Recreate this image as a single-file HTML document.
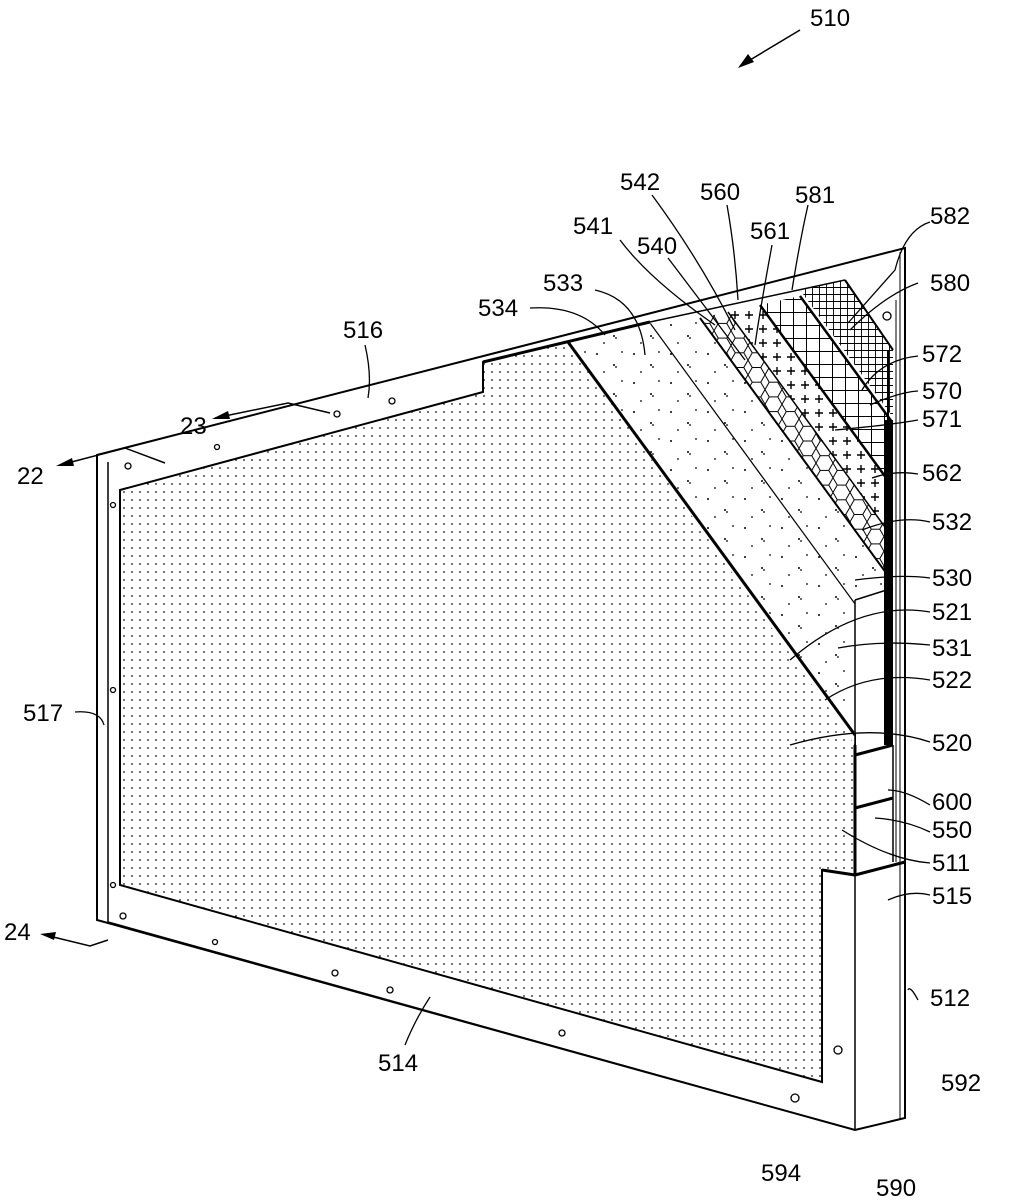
<!DOCTYPE html>
<html><head><meta charset="utf-8"><style>
html,body{margin:0;padding:0;background:#fff;}
svg{display:block;}
text{font-family:"Liberation Sans",sans-serif;font-size:24px;fill:#000;}
</style></head><body>
<svg width="1022" height="1200" viewBox="0 0 1022 1200" xmlns="http://www.w3.org/2000/svg">
<defs>
<pattern id="dots" width="8" height="8" patternUnits="userSpaceOnUse"><circle cx="4" cy="4" r="0.85" fill="#000"/></pattern>
<pattern id="sparse" width="37" height="29" patternUnits="userSpaceOnUse">
<circle cx="5" cy="6" r="1" fill="#000"/><circle cx="22" cy="17" r="1" fill="#000"/><circle cx="30" cy="4" r="0.9" fill="#000"/><circle cx="12" cy="24" r="0.9" fill="#000"/><circle cx="24" cy="19" r="0.9" fill="#000"/></pattern>
<pattern id="hex" width="17" height="14.7" patternUnits="userSpaceOnUse">
<path d="M0,7.35 L4.25,0 L12.75,0 L17,7.35 L12.75,14.7 L4.25,14.7 Z" fill="none" stroke="#000" stroke-width="1"/></pattern>
<pattern id="plus" width="14" height="14" patternUnits="userSpaceOnUse">
<path d="M7,3 V11 M3,7 H11" stroke="#000" stroke-width="1.4"/></pattern>
<pattern id="grid" width="13" height="13" patternUnits="userSpaceOnUse">
<path d="M0,0.5 H13 M0.5,0 V13" stroke="#000" stroke-width="1"/></pattern>
<pattern id="fine" width="7" height="7" patternUnits="userSpaceOnUse">
<path d="M0,0.5 H7 M0.5,0 V7" stroke="#000" stroke-width="0.9"/></pattern>
<clipPath id="lay"><polygon points="568,342 845,280 893,350 893,590 855,600 855,745 568,342"/></clipPath>
</defs>

<polygon points="97,455 905,248 905,1118 855,1130 97,920" fill="#fff" stroke="#000" stroke-width="2"/>
<line x1="108" y1="462" x2="108" y2="922" stroke="#000" stroke-width="1.5"/>
<line x1="108" y1="922" x2="855" y2="1130" stroke="#000" stroke-width="1.5"/>
<line x1="855" y1="875" x2="855" y2="1130" stroke="#000" stroke-width="1.5"/>
<line x1="900" y1="252" x2="900" y2="1120" stroke="#000" stroke-width="1"/>
<polygon points="120,490 483,392 483,362 568,342 855,735 855,875 822,870 822,1082 120,885" fill="url(#dots)" stroke="#000" stroke-width="2"/>
<g clip-path="url(#lay)">
<rect x="560" y="270" width="340" height="480" fill="#fff"/>
<polygon points="568,342 700,318 1000,729 868,753" fill="url(#sparse)"/>
<polygon points="700,318 728,312 1028,723 1000,729" fill="url(#hex)"/>
<polygon points="728,312 760,305 1060,716 1028,723" fill="url(#plus)"/>
<polygon points="760,305 800,296 1100,707 1060,716" fill="url(#grid)"/>
<polygon points="800,290 845,280 1145,691 1100,701" fill="url(#fine)"/>
<g stroke="#000" fill="none">
<line x1="650" y1="323" x2="950" y2="734" stroke-width="1.2"/>
<line x1="700" y1="318" x2="1000" y2="729" stroke-width="2"/>
<line x1="728" y1="312" x2="1028" y2="723" stroke-width="1.5"/>
<line x1="760" y1="305" x2="1060" y2="716" stroke-width="2.5"/>
<line x1="800" y1="296" x2="1100" y2="707" stroke-width="2.5"/>
<line x1="845" y1="280" x2="1145" y2="691" stroke-width="2"/>
</g>
<polygon points="855,600 893,588 893,750 855,750" fill="#fff"/>
</g>
<line x1="568" y1="342" x2="855" y2="735" stroke="#000" stroke-width="3"/>
<line x1="483" y1="362" x2="650" y2="322" stroke="#000" stroke-width="3"/>
<line x1="650" y1="322" x2="845" y2="280" stroke="#000" stroke-width="1.5"/>
<line x1="845" y1="280" x2="893" y2="350" stroke="#000" stroke-width="2"/>
<line x1="855" y1="600" x2="893" y2="588" stroke="#000" stroke-width="1.5"/>
<line x1="855" y1="600" x2="855" y2="745" stroke="#000" stroke-width="1.5"/>
<rect x="884" y="420" width="9" height="325" fill="#000"/>
<line x1="888" y1="350" x2="888" y2="420" stroke="#000" stroke-width="2"/>
<line x1="896" y1="300" x2="896" y2="862" stroke="#000" stroke-width="1"/>
<line x1="893" y1="745" x2="893" y2="862" stroke="#000" stroke-width="1.5"/>
<g stroke="#000" stroke-width="3">
<line x1="855" y1="755" x2="893" y2="745"/>
<line x1="855" y1="808" x2="893" y2="798"/>
<line x1="822" y1="870" x2="855" y2="875"/>
<line x1="855" y1="875" x2="905" y2="862"/>
<line x1="855" y1="745" x2="855" y2="875"/>
</g>
<g fill="#fff" stroke="#000" stroke-width="1.3">
<circle cx="887" cy="316" r="4"/><circle cx="337" cy="414" r="3"/><circle cx="392" cy="401" r="3"/>
<circle cx="217" cy="447" r="2.5"/><circle cx="128" cy="466" r="3"/>
<circle cx="113" cy="505" r="2.5"/><circle cx="113" cy="690" r="2.5"/><circle cx="113" cy="885" r="2.5"/>
<circle cx="123" cy="916" r="3"/><circle cx="215" cy="942" r="2.5"/><circle cx="335" cy="973" r="3"/>
<circle cx="390" cy="990" r="3"/><circle cx="562" cy="1033" r="3"/><circle cx="795" cy="1098" r="4"/>
<circle cx="838" cy="1050" r="4"/>
</g>
<g stroke="#000" stroke-width="1.5" fill="none">
<path d="M800,30 L740,66"/>
<path d="M60,465 L125,448 L165,463"/>
<path d="M215,418 L288,403 L330,413"/>
<path d="M45,935 L90,946 L108,940"/>
</g>
<g fill="#000">
<polygon points="738,68 748,54 754,62"/>
<polygon points="56,466 72,458 74,466"/>
<polygon points="212,419 228,411 230,419"/>
<polygon points="40,934 56,932 54,940"/>
</g>
<g stroke="#000" stroke-width="1.3" fill="none">
<path d="M365,345 Q372,375 368,398"/>
<path d="M530,308 Q580,305 605,335"/>
<path d="M595,290 Q640,300 645,355"/>
<path d="M620,240 Q650,280 715,325"/>
<path d="M668,258 Q700,300 745,360"/>
<path d="M652,195 Q700,260 735,330"/>
<path d="M727,205 Q735,250 738,300"/>
<path d="M772,245 Q760,310 755,345"/>
<path d="M808,205 Q800,240 792,290"/>
<path d="M930,222 Q905,230 895,270 L848,323"/>
<path d="M918,283 Q885,295 850,330"/>
<path d="M918,356 Q880,360 862,390"/>
<path d="M918,391 Q900,392 870,405"/>
<path d="M918,420 Q890,425 835,430"/>
<path d="M918,474 Q895,470 872,478"/>
<path d="M930,522 Q900,515 862,530"/>
<path d="M930,578 Q900,574 855,580"/>
<path d="M930,612 Q860,600 790,660"/>
<path d="M930,645 Q880,640 838,648"/>
<path d="M930,680 Q870,670 825,700"/>
<path d="M930,742 Q870,722 790,745"/>
<path d="M930,805 Q905,790 888,790"/>
<path d="M930,832 Q905,820 875,818"/>
<path d="M930,863 Q890,860 842,830"/>
<path d="M930,895 Q910,890 888,900"/>
<path d="M918,1000 Q910,985 908,990"/>
<path d="M75,712 Q100,710 104,725"/>
<path d="M405,1045 Q415,1020 430,997"/>
</g>
<text x="810" y="26">510</text>
<text x="620" y="190">542</text>
<text x="700" y="200">560</text>
<text x="795" y="203">581</text>
<text x="930" y="224">582</text>
<text x="573" y="234">541</text>
<text x="750" y="239">561</text>
<text x="637" y="254">540</text>
<text x="543" y="291">533</text>
<text x="930" y="291">580</text>
<text x="478" y="316">534</text>
<text x="343" y="338">516</text>
<text x="922" y="362">572</text>
<text x="922" y="399">570</text>
<text x="922" y="427">571</text>
<text x="180" y="434">23</text>
<text x="17" y="484">22</text>
<text x="922" y="481">562</text>
<text x="932" y="530">532</text>
<text x="932" y="586">530</text>
<text x="932" y="620">521</text>
<text x="932" y="656">531</text>
<text x="932" y="688">522</text>
<text x="932" y="751">520</text>
<text x="23" y="721">517</text>
<text x="932" y="810">600</text>
<text x="932" y="838">550</text>
<text x="932" y="871">511</text>
<text x="932" y="904">515</text>
<text x="4" y="940">24</text>
<text x="930" y="1006">512</text>
<text x="378" y="1071">514</text>
<text x="941" y="1091">592</text>
<text x="761" y="1181">594</text>
<text x="876" y="1196">590</text>
</svg>
</body></html>
